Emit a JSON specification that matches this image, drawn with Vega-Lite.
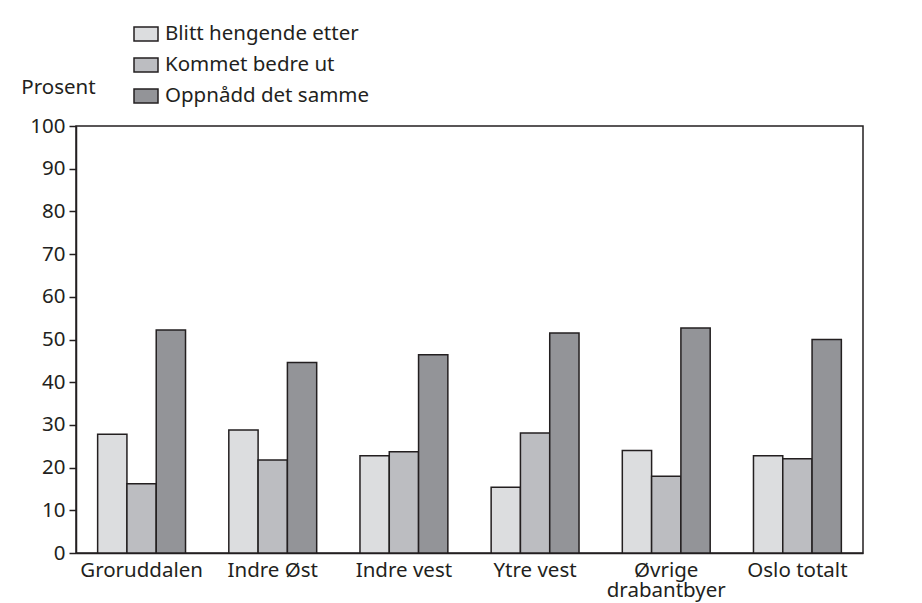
{
  "$schema": "https://vega.github.io/schema/vega-lite/v6.json",
  "width": 787,
  "height": 427,
  "autosize": {"type": "none"},
  "padding": {"left": 76, "top": 126, "right": 59, "bottom": 50},
  "background": "white",
  "config": {
    "font": "Noto Sans",
    "view": {"stroke": "#231f20", "strokeWidth": 1.5},
    "axis": {"labelColor": "#231f20", "titleColor": "#231f20", "domainColor": "#231f20", "tickColor": "#231f20", "labelFont": "Noto Sans", "titleFont": "Noto Sans"}
  },
  "data": {
    "values": [
      {"omrade": "Groruddalen", "gruppe": "Blitt hengende etter", "prosent": 27.8},
      {"omrade": "Groruddalen", "gruppe": "Kommet bedre ut", "prosent": 16.2},
      {"omrade": "Groruddalen", "gruppe": "Oppnådd det samme", "prosent": 52.2},
      {"omrade": "Indre Øst", "gruppe": "Blitt hengende etter", "prosent": 28.8},
      {"omrade": "Indre Øst", "gruppe": "Kommet bedre ut", "prosent": 21.8},
      {"omrade": "Indre Øst", "gruppe": "Oppnådd det samme", "prosent": 44.6},
      {"omrade": "Indre vest", "gruppe": "Blitt hengende etter", "prosent": 22.8},
      {"omrade": "Indre vest", "gruppe": "Kommet bedre ut", "prosent": 23.7},
      {"omrade": "Indre vest", "gruppe": "Oppnådd det samme", "prosent": 46.4},
      {"omrade": "Ytre vest", "gruppe": "Blitt hengende etter", "prosent": 15.4},
      {"omrade": "Ytre vest", "gruppe": "Kommet bedre ut", "prosent": 28.1},
      {"omrade": "Ytre vest", "gruppe": "Oppnådd det samme", "prosent": 51.5},
      {"omrade": "Øvrige drabantbyer", "gruppe": "Blitt hengende etter", "prosent": 24.0},
      {"omrade": "Øvrige drabantbyer", "gruppe": "Kommet bedre ut", "prosent": 18.0},
      {"omrade": "Øvrige drabantbyer", "gruppe": "Oppnådd det samme", "prosent": 52.7},
      {"omrade": "Oslo totalt", "gruppe": "Blitt hengende etter", "prosent": 22.8},
      {"omrade": "Oslo totalt", "gruppe": "Kommet bedre ut", "prosent": 22.1},
      {"omrade": "Oslo totalt", "gruppe": "Oppnådd det samme", "prosent": 50.0}
    ]
  },
  "mark": {"type": "bar", "stroke": "#231f20", "strokeWidth": 1.5},
  "encoding": {
    "x": {
      "field": "omrade",
      "type": "nominal",
      "sort": null,
      "scale": {"paddingInner": 0.33, "paddingOuter": 0.165},
      "axis": {
        "title": null,
        "labelAngle": 0,
        "ticks": false,
        "labelFontSize": 20.5,
        "labelPadding": 7,
        "labelLineHeight": 20,
        "labelLimit": 300,
        "domainWidth": 1.5,
        "labelExpr": "datum.label == 'Øvrige drabantbyer' ? ['Øvrige', 'drabantbyer'] : datum.label"
      }
    },
    "xOffset": {"field": "gruppe", "type": "nominal", "sort": null},
    "y": {
      "field": "prosent",
      "type": "quantitative",
      "scale": {"domain": [0, 100], "nice": false},
      "axis": {
        "title": "Prosent",
        "titleAngle": 0,
        "titleAlign": "center",
        "titleBaseline": "alphabetic",
        "titleX": -18,
        "titleY": -33,
        "titleFontSize": 20.5,
        "titleFontWeight": "normal",
        "values": [0, 10, 20, 30, 40, 50, 60, 70, 80, 90, 100],
        "grid": false,
        "tickSize": 7,
        "tickWidth": 1.5,
        "domainWidth": 1.5,
        "labelFontSize": 20.5,
        "labelPadding": 4
      }
    },
    "color": {
      "field": "gruppe",
      "type": "nominal",
      "sort": null,
      "scale": {
        "domain": ["Blitt hengende etter", "Kommet bedre ut", "Oppnådd det samme"],
        "range": ["#dcdddf", "#bcbdc1", "#939498"]
      },
      "legend": {
        "title": null,
        "orient": "none",
        "legendX": 57,
        "legendY": -105,
        "symbolType": "M-1,-0.58L1,-0.58L1,0.58L-1,0.58Z",
        "symbolSize": 576,
        "symbolStrokeColor": "#231f20",
        "symbolStrokeWidth": 1.5,
        "symbolOpacity": 1,
        "labelFontSize": 20.5,
        "labelColor": "#231f20",
        "labelFont": "Noto Sans",
        "labelOffset": 6,
        "rowPadding": 7,
        "labelLimit": 400
      }
    }
  }
}
